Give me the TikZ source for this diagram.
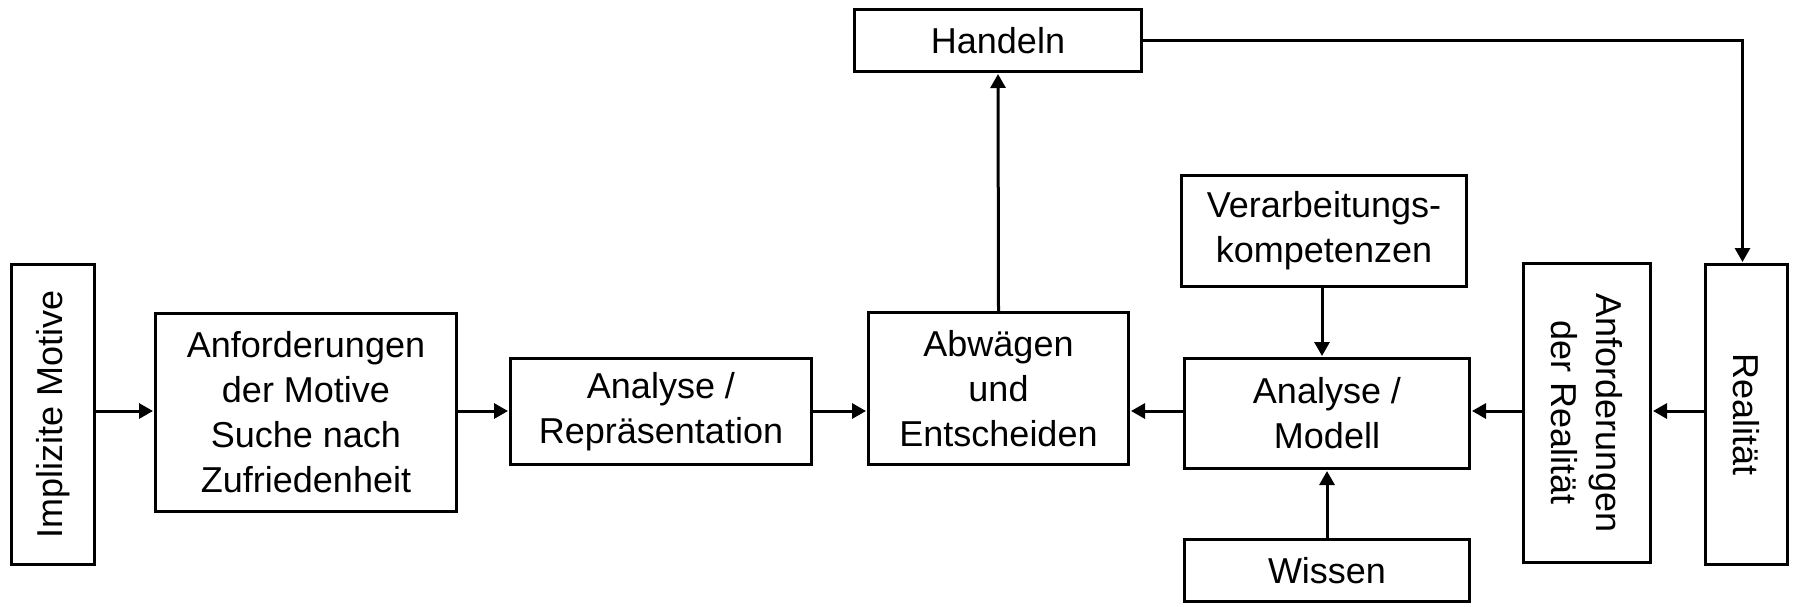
\documentclass[tikz,border=0pt]{standalone}
\usepackage{fontspec}
\setmainfont{Liberation Sans}
\usetikzlibrary{arrows.meta}
\begin{document}
\begin{tikzpicture}[x=1pt,y=-1pt,
  box/.style={draw, line width=3pt, inner sep=0pt, align=center, font=\fontsize{36}{45}\selectfont},
  lbl/.style={inner sep=0pt, align=center, font=\fontsize{36}{45}\selectfont},
  arr/.style={line width=3pt, shorten >=1pt, -{Triangle[length=14pt,width=15pt]}}]
\fill[white] (0,0) rectangle (1800,606);
\useasboundingbox (0,0) rectangle (1800,606);
\coordinate (row) at (0,411);
% boxes
\node[box, minimum width=83pt, minimum height=300pt] (imp) at (53,414.5) {};
\node[lbl, rotate=90] (impT) at (imp.center) {Implizite Motive};
\node[box, minimum width=301pt, minimum height=198pt] (anfM) at (306,412.5) {Anforderungen\\der Motive\\Suche nach\\Zufriedenheit};
\node[box, minimum width=301pt, minimum height=106pt] (anaR) at (661,411.5) {Analyse /\\Repräsentation};
\node[box, minimum width=260pt, minimum height=152pt] (abw) at (998.5,388.5) {Abwägen\\und\\Entscheiden};
\node[box, minimum width=287pt, minimum height=62pt] (hand) at (998,40.5) {Handeln};
\node[box, minimum width=285pt, minimum height=111pt] (verb) at (1324,231) {Verarbeitungs-\\kompetenzen};
\node[box, minimum width=285pt, minimum height=110pt] (anaM) at (1327,413.5) {Analyse /\\Modell};
\node[box, minimum width=285pt, minimum height=62pt] (wis) at (1327,570.5) {Wissen};
\node[box, minimum width=127pt, minimum height=299pt] (anfR) at (1587,413) {};
\node[lbl, rotate=-90] (anfRT) at (anfR.center) {Anforderungen\\der Realität};
\node[box, minimum width=82pt, minimum height=300pt] (real) at (1746.5,414.5) {};
\node[lbl, rotate=-90] (realT) at (real.center) {Realität};
% connectors
\draw[arr] (imp.east |- row) -- (anfM.west |- row);
\draw[arr] (anfM.east |- row) -- (anaR.west |- row);
\draw[arr] (anaR.east |- row) -- (abw.west |- row);
\draw[arr] (anaM.west |- row) -- (abw.east |- row);
\draw[arr] (anfR.west |- row) -- (anaM.east |- row);
\draw[arr] (real.west |- row) -- (anfR.east |- row);
\draw[arr] (abw.north) -- (hand.south);
\draw[arr] (hand.east) -| ([xshift=-4pt]real.north);
\draw[arr] ([xshift=-2pt]verb.south) -- ([xshift=-5pt]anaM.north);
\draw[arr] (wis.north -| anaM.north) -- (anaM.south);
\end{tikzpicture}
\end{document}
